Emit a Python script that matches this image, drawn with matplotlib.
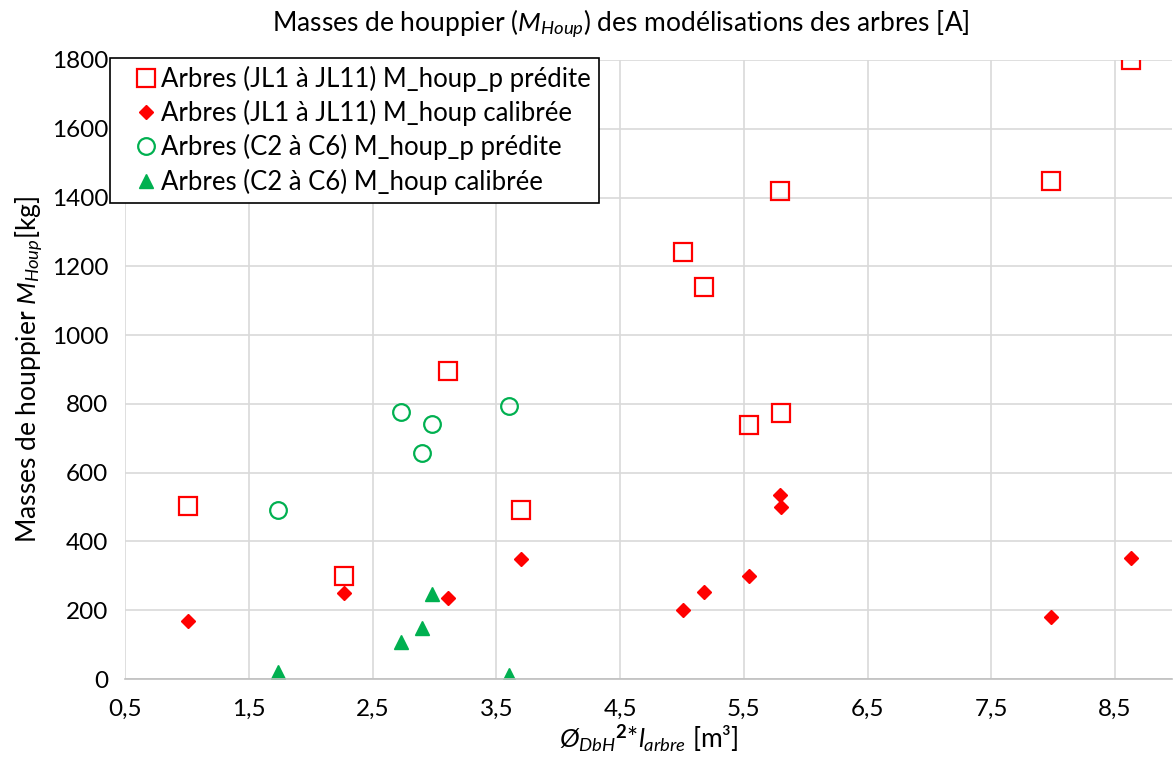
import matplotlib
matplotlib.use("Agg")
import matplotlib.pyplot as plt
from matplotlib.ticker import FuncFormatter

plt.rcParams['font.family'] = ['Lato', 'DejaVu Sans']
plt.rcParams['mathtext.fontset'] = 'custom'
plt.rcParams['mathtext.rm'] = 'Lato'
plt.rcParams['mathtext.it'] = 'Lato:italic'
plt.rcParams['mathtext.bf'] = 'Lato:bold'

# JL1 a JL11
jl_x = [1.01, 2.27, 3.11, 3.70, 5.01, 5.18, 5.54, 5.79, 5.80, 7.98, 8.63]
jl_pred = [503, 300, 895, 491, 1241, 1140, 738, 1419, 773, 1448, 1800]
jl_calib = [169, 250, 235, 349, 200, 253, 300, 535, 500, 180, 352]

# C2 a C6
c_x = [1.74, 2.73, 2.90, 2.98, 3.60]
c_pred = [491, 776, 657, 741, 794]
c_calib = [20, 107, 148, 248, 12]

red = '#FF0000'
green = '#00B050'

fig = plt.figure(figsize=(11.74, 7.69), dpi=100)
ax = fig.add_axes([125 / 1174, 1 - 679 / 769, 1047 / 1174, 619 / 769])

ax.plot(jl_x, jl_pred, ls='none', marker='s', ms=12.5, mfc='none', mec=red, mew=1.6,
        label='Arbres (JL1 à JL11) M_houp_p prédite')
ax.plot(jl_x, jl_calib, ls='none', marker='D', ms=7.5, mfc=red, mec=red,
        label='Arbres (JL1 à JL11) M_houp calibrée')
ax.plot(c_x, c_pred, ls='none', marker='o', ms=12, mfc='none', mec=green, mew=1.6,
        label='Arbres (C2 à C6) M_houp_p prédite')
ax.plot(c_x, c_calib, ls='none', marker='^', ms=10.5, mfc=green, mec=green,
        label='Arbres (C2 à C6) M_houp calibrée')

ax.set_xlim(0.5, 8.96)
ax.set_ylim(0, 1800)
ax.set_xticks([0.5, 1.5, 2.5, 3.5, 4.5, 5.5, 6.5, 7.5, 8.5])
ax.set_yticks(range(0, 1801, 200))
ax.xaxis.set_major_formatter(FuncFormatter(lambda v, p: ('%.1f' % v).replace('.', ',')))
ax.tick_params(length=0, labelsize=17.5)
ax.tick_params(axis='y', pad=12)
ax.tick_params(axis='x', pad=14)
ax.grid(True, color='#D9D9D9', lw=1.2)
ax.set_axisbelow(True)
for s in ['top', 'right', 'left']:
    ax.spines[s].set_visible(False)
ax.spines['bottom'].set_color('#BFBFBF')
ax.spines['bottom'].set_linewidth(1.2)

fig.text(621 / 1174, 1 - 24 / 769,
         r'Masses de houppier ($\mathit{M}_{\mathit{Houp}}$) des modélisations des arbres [A]',
         fontsize=19, ha='center', va='center')
ax.set_ylabel(r'Masses de houppier $\mathit{M}_{\mathit{Houp}}$[kg]', fontsize=19, labelpad=4)
ax.set_xlabel(r'${\mathit{Ø}_{\mathit{DbH}}}^{\mathbf{2}}$*$\mathit{l}_{\mathit{arbre}}$ [m³]',
              fontsize=19, labelpad=2)

leg = ax.legend(loc='upper left', bbox_to_anchor=(110 / 1174, 1 - 58 / 769),
                bbox_transform=fig.transFigure, fontsize=18.5, frameon=True, fancybox=False,
                handlelength=2.2, handletextpad=-0.5, borderpad=0.3, labelspacing=0.32,
                borderaxespad=0)
leg.get_frame().set_edgecolor('black')
leg.get_frame().set_linewidth(1.2)
leg.get_frame().set_alpha(1)

fig.savefig('out.png', dpi=100)
